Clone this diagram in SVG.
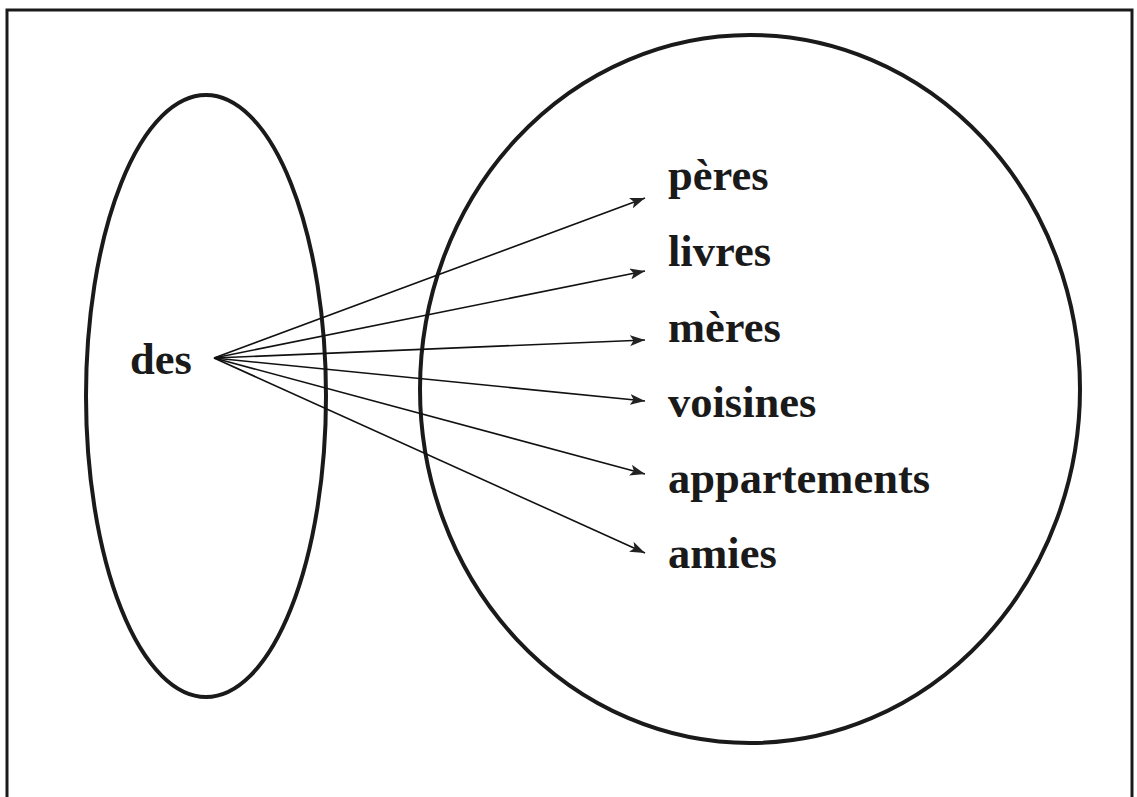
<svg xmlns="http://www.w3.org/2000/svg" width="1137" height="797" viewBox="0 0 1137 797">
<style>
.shape{fill:none;stroke:#1a1a1a;stroke-width:4}
.frame{fill:none;stroke:#1a1a1a;stroke-width:3}
.conn{stroke:#111;stroke-width:1.6;fill:none;marker-end:url(#ah)}
.lbl{font-family:"Liberation Serif","Times New Roman",serif;font-weight:bold;font-size:44.5px;fill:#1a1a1a}
</style>
<defs>
<marker id="ah" viewBox="0 0 15 11" refX="15" refY="5.5" markerWidth="15" markerHeight="11" markerUnits="userSpaceOnUse" orient="auto">
<path d="M0,0 L15,5.5 L0,11 L3.5,5.5 Z" fill="#222"/>
</marker>
</defs>
<rect x="7" y="10" width="1125" height="800" class="frame"/>
<g id="set-left">
<ellipse cx="206" cy="396" rx="120" ry="301" class="shape"/>
<text x="130" y="374" class="lbl">des</text>
</g>
<g id="set-right">
<ellipse cx="750" cy="389" rx="330" ry="354" class="shape"/>
</g>
<g id="n-peres"><text x="668" y="190" class="lbl">pères</text></g>
<g id="n-livres"><text x="668" y="266" class="lbl">livres</text></g>
<g id="n-meres"><text x="668" y="342" class="lbl">mères</text></g>
<g id="n-voisines"><text x="668" y="417" class="lbl">voisines</text></g>
<g id="n-appartements"><text x="668" y="493" class="lbl">appartements</text></g>
<g id="n-amies"><text x="668" y="568" class="lbl">amies</text></g>
<g id="connectors">
<line x1="214" y1="358" x2="645" y2="198" class="conn"/>
<line x1="214" y1="358" x2="645" y2="271" class="conn"/>
<line x1="214" y1="358" x2="645" y2="340" class="conn"/>
<line x1="214" y1="358" x2="645" y2="401" class="conn"/>
<line x1="214" y1="358" x2="645" y2="474" class="conn"/>
<line x1="214" y1="358" x2="645" y2="553" class="conn"/>
</g>
</svg>
